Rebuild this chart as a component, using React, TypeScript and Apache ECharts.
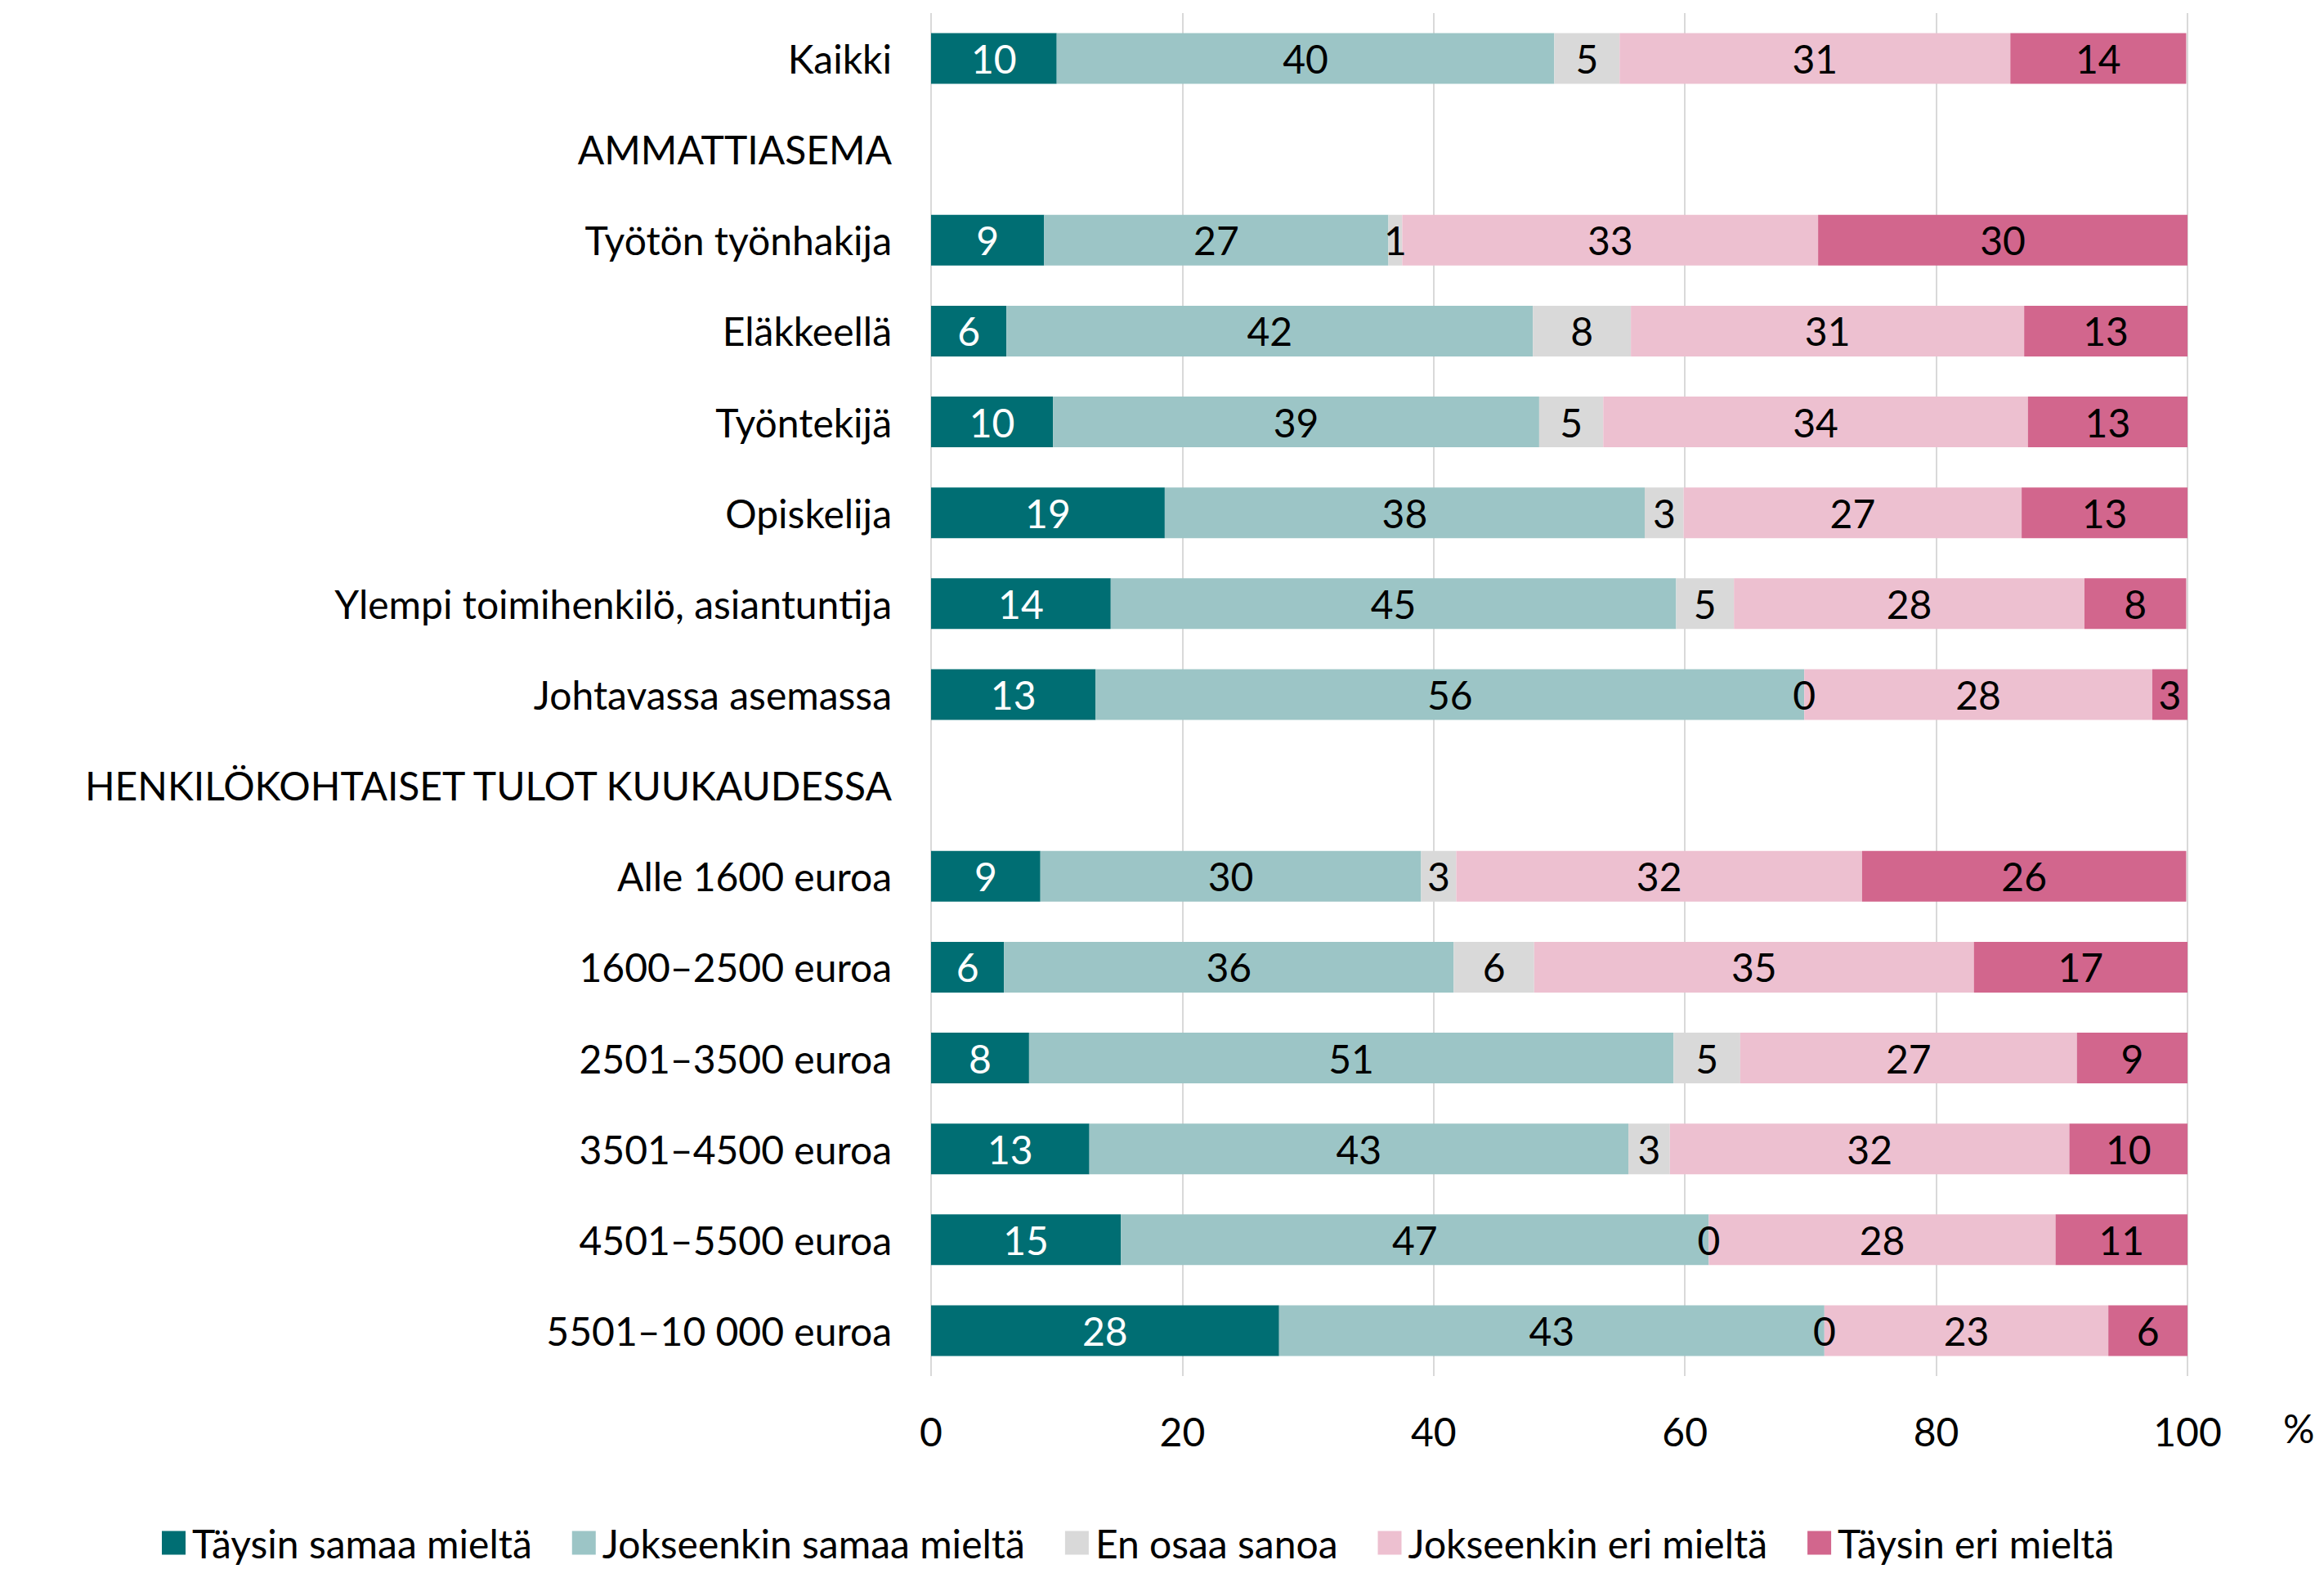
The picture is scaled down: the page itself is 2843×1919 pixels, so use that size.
import React, { useEffect, useRef } from "react";
import * as echarts from "echarts";

const categories = [
  "Kaikki",
  "AMMATTIASEMA",
  "Työtön työnhakija",
  "Eläkkeellä",
  "Työntekijä",
  "Opiskelija",
  "Ylempi toimihenkilö, asiantuntija",
  "Johtavassa asemassa",
  "HENKILÖKOHTAISET TULOT KUUKAUDESSA",
  "Alle 1600 euroa",
  "1600–2500 euroa",
  "2501–3500 euroa",
  "3501–4500 euroa",
  "4501–5500 euroa",
  "5501–10 000 euroa",
];

const seriesNames = [
  "Täysin samaa mieltä",
  "Jokseenkin samaa mieltä",
  "En osaa sanoa",
  "Jokseenkin eri mieltä",
  "Täysin eri mieltä",
];

const colors = ["#006E73", "#9CC5C6", "#D9D9D9", "#EDC0D0", "#D2668D"];

// "-" marks heading rows with no bars
const taysinSamaa = [10.0, "-", 9.0, 6.0, 9.7, 18.6, 14.3, 13.1, "-", 8.7, 5.8, 7.8, 12.6, 15.1, 27.7];
const jokseenkinSamaa = [39.6, "-", 27.4, 41.9, 38.7, 38.2, 45.0, 56.4, "-", 30.3, 35.8, 51.3, 42.9, 46.8, 43.4];
const enOsaa = [5.2, "-", 1.1, 7.8, 5.1, 3.1, 4.6, 0, "-", 2.8, 6.4, 5.3, 3.3, 0, 0];
const jokseenkinEri = [31.1, "-", 33.1, 31.3, 33.8, 26.9, 27.9, 27.7, "-", 32.3, 35.0, 26.8, 31.8, 27.6, 22.6];
const taysinEri = [14.0, "-", 29.5, 13.0, 12.9, 13.2, 8.1, 2.8, "-", 25.8, 17.0, 8.8, 9.6, 10.6, 6.3];

const seriesData = [taysinSamaa, jokseenkinSamaa, enOsaa, jokseenkinEri, taysinEri];
const labelColors = ["#FFFFFF", "#000000", "#000000", "#000000", "#000000"];

const FONT = "Lato";
const FS = 48;

export default function App() {
  const ref = useRef<HTMLDivElement>(null);
  useEffect(() => {
    if (!ref.current) return;
    const chart = echarts.init(ref.current, null, { renderer: "svg" });
    chart.setOption({
      animation: false,
      backgroundColor: "#FFFFFF",
      textStyle: { fontFamily: FONT },
      grid: { left: 1139, right: 167, top: 16, bottom: 236, containLabel: false },
      legend: {
        data: seriesNames,
        left: 193,
        top: 1858,
        itemWidth: 29,
        itemHeight: 29,
        itemGap: 49,
        icon: "rect",
        textStyle: { fontFamily: FONT, fontSize: FS, color: "#000000", padding: [0, 0, 0, 3] },
      },
      xAxis: {
        type: "value",
        min: 0,
        max: 100,
        interval: 20,
        axisLine: { show: false },
        axisTick: { show: false },
        splitLine: { show: true, lineStyle: { color: "#D9D9D9", width: 2 } },
        axisLabel: { fontFamily: FONT, fontSize: FS, color: "#000000", margin: 43 },
      },
      yAxis: {
        type: "category",
        data: categories,
        inverse: true,
        axisLine: { show: false },
        axisTick: { show: false },
        axisLabel: { fontFamily: FONT, fontSize: FS, color: "#000000", margin: 48 },
      },
      graphic: [
        {
          type: "text",
          left: 2793,
          top: 1722,
          style: { text: "%", font: `${FS}px ${FONT}`, fill: "#000000" },
        },
      ],
      series: seriesNames.map((name, i) => ({
        name,
        type: "bar",
        stack: "total",
        barWidth: 62,
        data: seriesData[i],
        itemStyle: { color: colors[i] },
        label: {
          show: true,
          position: "inside",
          fontFamily: FONT,
          fontSize: FS,
          color: labelColors[i],
          formatter: (p: any) => String(Math.round(Number(p.value))),
        },
      })),
    });
    return () => chart.dispose();
  }, []);
  return (
    <div
      ref={ref}
      style={{ position: "fixed", left: 0, top: 0, width: 2843, height: 1919, background: "#FFFFFF" }}
    />
  );
}
